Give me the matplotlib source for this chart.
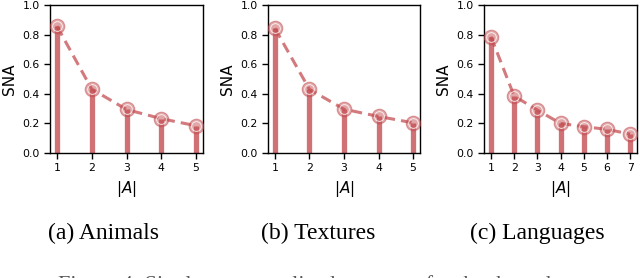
import numpy as np
import matplotlib
matplotlib.use("Agg")
import matplotlib.pyplot as plt

# values
animals_k = [1, 2, 3, 4, 5]
animals_sna = [0.857, 0.432, 0.294, 0.232, 0.184]

textures_k = [1, 2, 3, 4, 5]
textures_sna = [0.842, 0.430, 0.296, 0.247, 0.204]

languages_k = [1, 2, 3, 4, 5, 6, 7]
languages_sna = [0.786, 0.385, 0.290, 0.200, 0.178, 0.160, 0.128]

captions = ["(a) Animals", "(b) Textures", "(c) Languages"]

red = "#c44e52"

fig = plt.figure(figsize=(6.4, 2.78), dpi=100)

# axes boxes in pixels: left, width, caption centre (top 5px, bottom 153px)
boxes = [(50, 153, 104), (268, 152, 318), (484, 153, 537)]
data = [(animals_k, animals_sna), (textures_k, textures_sna), (languages_k, languages_sna)]

for (left, width, cx), (k, v), cap in zip(boxes, data, captions):
    ax = fig.add_axes([left / 640, (278 - 153) / 278, width / 640, 148 / 278])
    ax.vlines(k, 0, v, color=red, lw=3.8, alpha=0.8, zorder=2)
    ax.plot(k, v, ls="--", lw=2.2, color=red, alpha=0.75, dashes=(3.5, 2), zorder=3)
    ax.plot(k, v, ls="none", marker="o", ms=10.5, mfc=red, mec=red, mew=0.8, alpha=0.5, zorder=4)
    ax.plot(k, v, ls="none", marker="o", ms=7, mfc="none", mec="white", mew=0.7, alpha=0.8, zorder=5)

    ax.set_ylim(0, 1.0)
    ax.set_yticks([0.0, 0.2, 0.4, 0.6, 0.8, 1.0])
    ax.set_xticks(k)
    ax.margins(x=0.05)
    ax.set_ylabel("SNA", fontsize=11, labelpad=4)
    ax.set_xlabel("$|A|$", fontsize=11, labelpad=4)
    ax.tick_params(labelsize=7.8, length=4.5, width=1, pad=3, colors="black")
    for s in ax.spines.values():
        s.set_linewidth(1.0)
        s.set_color("black")

    fig.text(cx / 640, 1 - 233 / 278, cap, ha="center", va="center",
             fontsize=17, family="Liberation Serif")

fig.text(0.09, 1 - 275 / 278, "Figure 4: Singleton normalized accuracy for the three datasets.",
         ha="left", va="top", fontsize=16, family="Liberation Serif", color="#555555")

fig.savefig("out.png", dpi=100)
